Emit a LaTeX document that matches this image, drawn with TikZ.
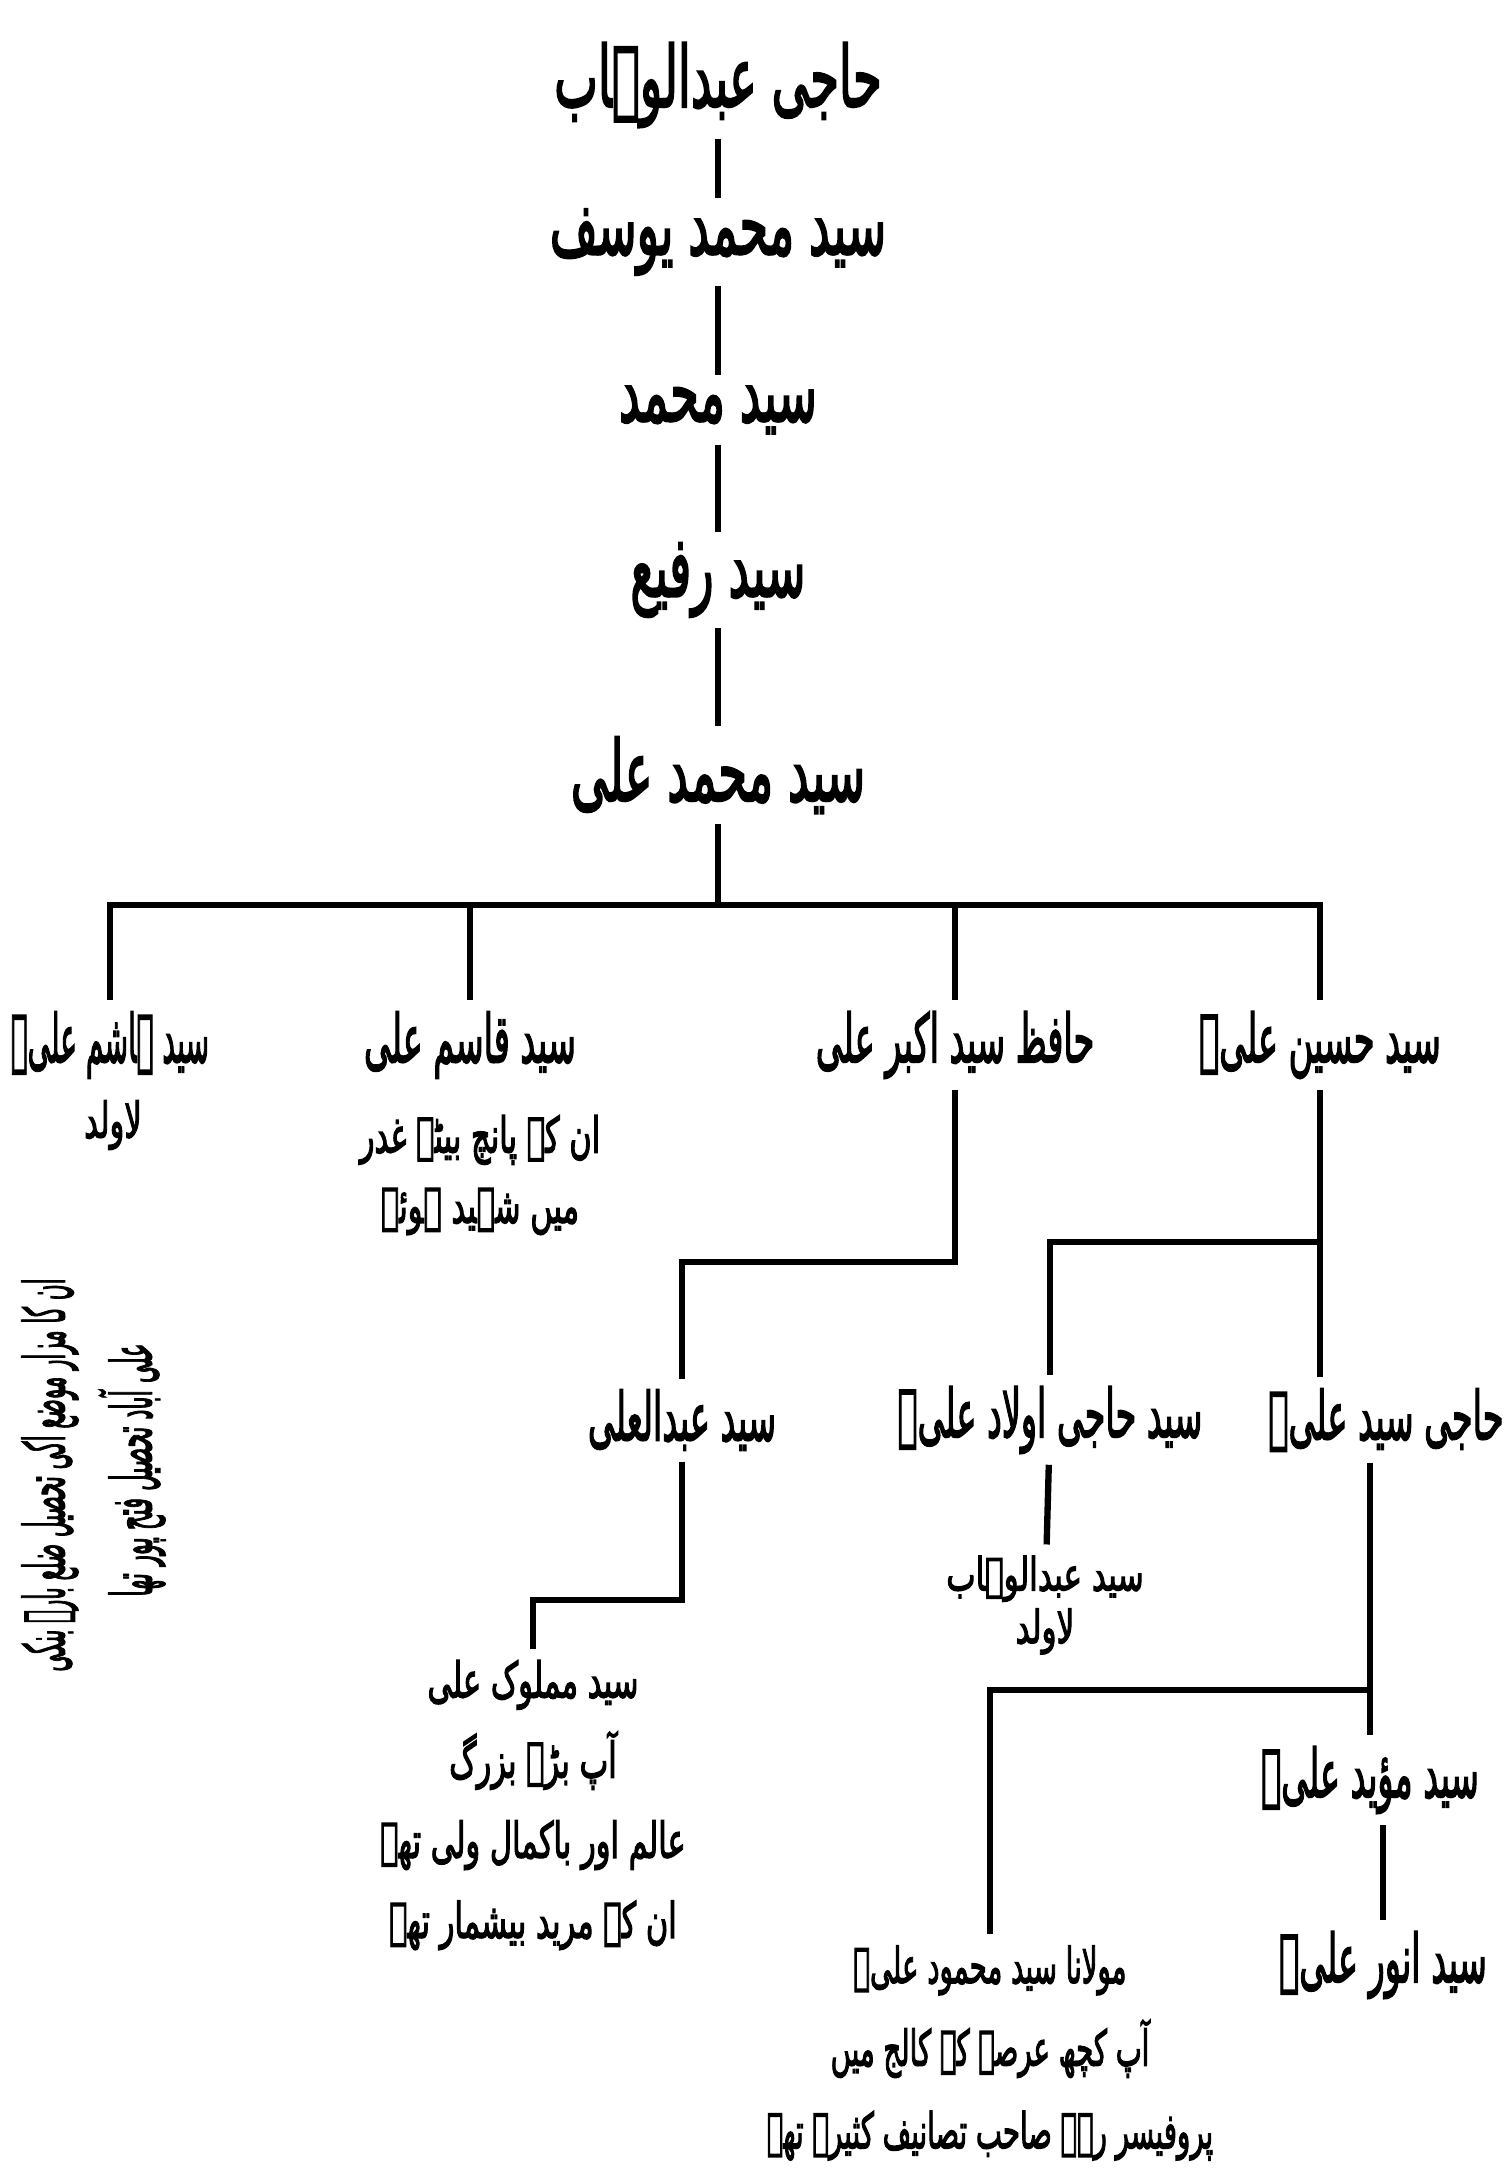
\documentclass[tikz,border=0pt]{standalone}
\usepackage{fontspec}
\newfontfamily\urdu[Script=Arabic, FakeBold=3]{DejaVu Sans}
\TeXXeTstate=1
% squeeze factor is set by each node style
\def\squeeze{0.6}
\newcommand{\ur}[1]{\scalebox{\squeeze}[1]{\beginR #1\endR}}
\usetikzlibrary{positioning}

\begin{document}
\begin{tikzpicture}[
    % --- Name and note styles ---
    elder/.style={font=\urdu\fontsize{24}{28}\selectfont\def\squeeze{0.55}, inner sep=3pt},
    heir/.style={font=\urdu\fontsize{19}{23}\selectfont\def\squeeze{0.5}, inner sep=3pt},
    remark/.style={font=\urdu\fontsize{14}{20}\selectfont\def\squeeze{0.62}, align=center, inner sep=3pt},
    link/.style={line width=1.8pt}
]
    \useasboundingbox (0,0) rectangle (15.09,-21.80);

    % --- Main line (top to bottom) ---
    \node (n1) [elder] at (7.18,-0.85) {\ur{حاجی عبدالوہاب}};
    \node (n2) [elder] at (7.18,-2.42) {\ur{سید محمد یوسف}};
    \node (n3) [elder] at (7.18,-4.10) {\ur{سید محمد}};
    \node (n4) [elder] at (7.18,-5.80) {\ur{سید رفیع}};
    \node (n5) [elder] at (7.18,-7.75) {\ur{سید محمد علی}};
    \coordinate (fork) at (7.18,-9.05);

    % --- Four sons ---
    \node (h1) [heir, font=\urdu\fontsize{19}{23}\selectfont\def\squeeze{0.42}] at (1.10,-10.45) {\ur{سید ہاشم علیؒ}};
    \node (q1) [heir] at (4.70,-10.45) {\ur{سید قاسم علی}};
    \node (a1) [heir] at (9.55,-10.45) {\ur{حافظ سید اکبر علی}};
    \node (s1) [heir] at (13.20,-10.45) {\ur{سید حسین علیؒ}};

    \node (hnote) [remark] at (1.13,-11.25) {\ur{لاولد}};
    \node (qnote) [remark] at (4.80,-11.75) {\ur{ان کے پانچ بیٹے غدر}\\\ur{میں شہید ہوئے}};
    \node (grave1) [remark, rotate=90, font=\urdu\fontsize{16}{18}\selectfont\def\squeeze{0.38}] at (0.50,-14.75)
        {\ur{ان کا مزار موضع اکی تحصیل ضلع بارہ بنکی}};
    \node (grave2) [remark, rotate=90, font=\urdu\fontsize{16}{18}\selectfont\def\squeeze{0.40}] at (1.32,-14.70)
        {\ur{علی آباد تحصیل فتح پور تھا}};

    % --- Grandsons ---
    \coordinate (akink) at (9.55,-12.62);
    \coordinate (skink) at (13.20,-12.42);
    \node (ab) [heir] at (6.82,-14.20) {\ur{سید عبدالعلی}};
    \node (ao) [heir] at (10.50,-14.20) {\ur{سید حاجی اولاد علیؒ}};
    \node (hs) [heir] at (13.86,-14.20) {\ur{حاجی سید علیؒ}};
    \node (aw) [remark, font=\urdu\fontsize{13}{15}\selectfont\def\squeeze{0.68}] at (10.45,-16.05)
        {\ur{سید عبدالوہاب}\\\ur{لاولد}};

    % --- Next generation ---
    \coordinate (bkink) at (6.82,-16.00);
    \coordinate (hkink) at (13.70,-16.90);
    \node (mm) [remark, font=\urdu\fontsize{14}{22.8}\selectfont\def\squeeze{0.62}] at (5.33,-18.05)
        {\ur{سید مملوک علی}\\\ur{آپ بڑے بزرگ}\\\ur{عالم اور باکمال ولی تھے}\\\ur{ان کے مرید بیشمار تھے}};
    \node (mu) [heir] at (13.70,-17.80) {\ur{سید مؤید علیؒ}};
    \node (an) [heir] at (13.83,-19.65) {\ur{سید انور علیؒ}};
    \node (mh) [remark, font=\urdu\fontsize{14}{23.5}\selectfont\def\squeeze{0.56}] at (9.90,-20.53)
        {\ur{مولانا سید محمود علیؒ}\\\ur{آپ کچھ عرصہ کے کالج میں}\\\ur{پروفیسر رہے صاحب تصانیف کثیرہ تھے}};

    % --- Lines ---
    \draw [link] (n1) -- (n2);
    \draw [link] (n2) -- (n3);
    \draw [link] (n3) -- (n4);
    \draw [link] (n4) -- (n5);
    \draw [link] (n5) -- (fork);
    \draw [link] (h1) |- (fork) -| (s1);
    \draw [link] (fork) -| (q1);
    \draw [link] (fork) -| (a1);

    \draw [link] (a1) -- (akink) -| (ab);
    \draw [link] (s1) -- (skink) -| (ao);
    \draw [link] (skink) -- (skink |- hs.north);

    \draw [link] (ab) -- (bkink) -| (mm);
    \draw [link] (ao) -- (aw);
    \draw [link] (hs.south -| hkink) -- (hkink) -| (mh);
    \draw [link] (hkink) -- (mu);
    \draw [link] (an |- mu.south) -- (an);

\end{tikzpicture}
\end{document}
